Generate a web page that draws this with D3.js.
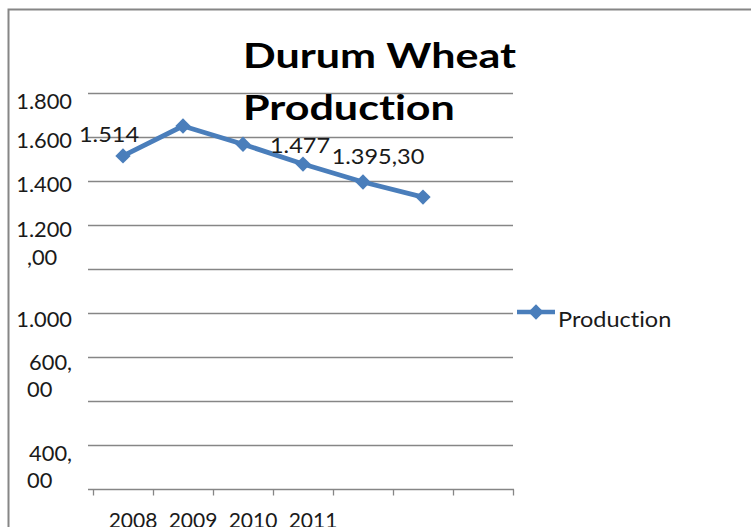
<!DOCTYPE html>
<html>
<head>
<meta charset="utf-8">
<script src="https://cdn.jsdelivr.net/npm/d3@7"></script>
<style>
  html, body { margin: 0; padding: 0; background: #fff; }
  svg { display: block; font-family: Lato, "Open Sans", sans-serif; }
  svg text { font-variant-ligatures: none; font-feature-settings: "liga" 0, "clig" 0; }
</style>
</head>
<body>
<svg id="chart" width="751" height="527"></svg>
<script>
// ---- data ----
const chartTitle = ["Durum Wheat", "Production"];
const seriesName = "Production";
const xTickLabels = ["2008", "2009", "2010", "2011", "", "", ""];
const production = [1514, 1650, 1567, 1477, 1395.3, 1327];
const pointLabels = ["1.514", null, null, "1.477", "1.395,30", null];
const yGridValues = [0, 200, 400, 600, 800, 1000, 1200, 1400, 1600, 1800];
const yTickLabels = [["1.800"], ["1.600"], ["1.400"], ["1.200", ",00"], ["1.000"], ["600,", "00"], ["400,", "00"]];
const yTickAnchors = [1761, 1580, 1384, 1114, 766, 511, 98];

// ---- layout ----
const W = 751, H = 527;
const plot = { left: 88, right: 514, top: 93, bottom: 489 };
const blue = "#4a7ebb";
const grid = "#868686";
const ink = "#1a1a1a";
const fontSize = 21;
const stretch = 1.12;      // wide body text
const axisStretch = 1.04;  // axis labels
const titleStretch = 1.23; // wide title text
const lineGap = 27.5;
// label placement relative to its point (dx = centre offset, dy = baseline offset)
const labelOffsets = [[-14, -14], null, null, [-3, -11], [15, -18], null];

const svg = d3.select("#chart");

// place a horizontally stretched text at (x, y)
function putText(sel, px, py, sx) {
  return sel.attr("x", 0).attr("y", 0)
    .attr("transform", `translate(${px},${py}) scale(${sx},1)`);
}

const x = d3.scaleBand().domain(d3.range(xTickLabels.length)).range([93, 513]);
const y = d3.scaleLinear().domain([0, 1800]).range([plot.bottom, plot.top]);
const cx = i => x(i) + x.bandwidth() / 2;

// chart frame
svg.append("path")
  .attr("d", `M8.5,${H} V9.5 H${W}`)
  .attr("fill", "none")
  .attr("stroke", grid)
  .attr("stroke-width", 2);

// horizontal gridlines
svg.append("g").selectAll("line")
  .data(yGridValues.filter(v => v > 0))
  .join("line")
  .attr("x1", plot.left).attr("x2", plot.right - 1)
  .attr("y1", d => Math.round(y(d)) + 0.5).attr("y2", d => Math.round(y(d)) + 0.5)
  .attr("stroke", grid).attr("stroke-width", 1.3);

// category axis
const xAxis = svg.append("g")
  .attr("transform", `translate(0,${Math.round(y(0)) + 0.5})`)
  .call(d3.axisBottom(x).tickSize(0).tickFormat(""));
xAxis.select(".domain").remove();
xAxis.append("line")
  .attr("x1", plot.left).attr("x2", plot.right)
  .attr("stroke", grid).attr("stroke-width", 1.3);
xAxis.selectAll("line.tickmark")
  .data(d3.range(xTickLabels.length + 1))
  .join("line")
  .attr("class", "tickmark")
  .attr("x1", i => 93.5 + i * x.step()).attr("x2", i => 93.5 + i * x.step())
  .attr("y1", 0).attr("y2", 6)
  .attr("stroke", grid).attr("stroke-width", 1.3);

svg.append("g").selectAll("text")
  .data(xTickLabels.map((t, i) => ({ t, i })).filter(d => d.t))
  .join("text")
  .each(function (d) { putText(d3.select(this), cx(d.i) + 10, 528, 1.0); })
  .attr("text-anchor", "middle")
  .attr("font-size", fontSize)
  .attr("fill", ink)
  .text(d => d.t);

// value axis labels
const yLab = svg.append("g");
yTickLabels.forEach((lines, k) => {
  const centre = y(yTickAnchors[k]);
  const first = centre - (lines.length - 1) * lineGap / 2 + 7;
  lines.forEach((ln, j) => {
    putText(yLab.append("text"), j === 0 ? 72 : 27, first + j * lineGap, axisStretch)
      .attr("text-anchor", j === 0 ? "end" : "start")
      .attr("font-size", fontSize)
      .attr("fill", ink)
      .text(ln);
  });
});

// series line
const line = d3.line().x((d, i) => cx(i)).y(d => y(d));
svg.append("path")
  .datum(production)
  .attr("d", line)
  .attr("fill", "none")
  .attr("stroke", blue)
  .attr("stroke-width", 4.8)
  .attr("stroke-linejoin", "round");

const diamond = d3.symbol().type(d3.symbolDiamond2).size(150);
svg.append("g").selectAll("path")
  .data(production)
  .join("path")
  .attr("transform", (d, i) => `translate(${cx(i)},${y(d)})`)
  .attr("d", diamond)
  .attr("fill", blue);

// data labels
svg.append("g").selectAll("text")
  .data(production.map((v, i) => ({ v, i, t: pointLabels[i] })).filter(d => d.t))
  .join("text")
  .each(function (d) {
    putText(d3.select(this), cx(d.i) + labelOffsets[d.i][0], y(d.v) + labelOffsets[d.i][1], stretch);
  })
  .attr("text-anchor", "middle")
  .attr("font-size", fontSize)
  .attr("fill", ink)
  .text(d => d.t);

// title
svg.append("g").selectAll("text")
  .data(chartTitle)
  .join("text")
  .each(function (d, i) { putText(d3.select(this), 243, 68 + i * 52, titleStretch); })
  .attr("font-size", 35)
  .attr("font-weight", 700)
  .attr("fill", "#000")
  .text(d => d);

// legend
const lg = svg.append("g").attr("transform", "translate(517,312)");
lg.append("line").attr("x1", 0).attr("x2", 38).attr("stroke", blue).attr("stroke-width", 4.5);
lg.append("path").attr("transform", "translate(19,0)").attr("d", diamond).attr("fill", blue);
putText(lg.append("text"), 41, 15, stretch)
  .attr("font-size", fontSize)
  .attr("fill", ink)
  .text(seriesName);
</script>
</body>
</html>
